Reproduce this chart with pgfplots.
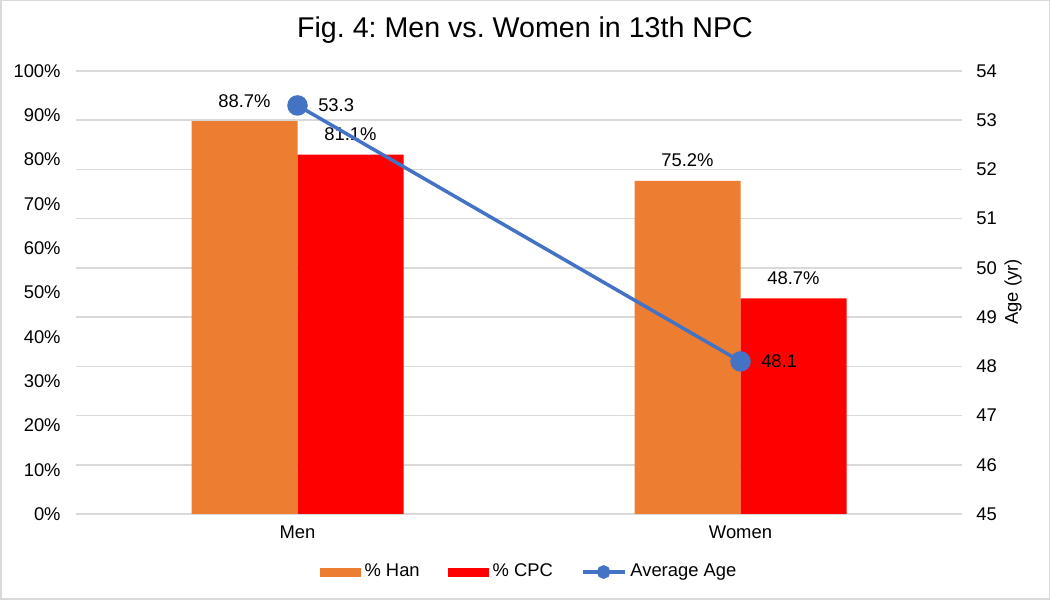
\documentclass[border=0pt]{standalone}
\usepackage{pgfplots}
\pgfplotsset{compat=1.18}
\usepackage{fontspec}
\setmainfont{Liberation Sans}
\frenchspacing

\definecolor{hanorange}{HTML}{ED7D31}
\definecolor{cpcred}{HTML}{FF0000}
\definecolor{ageblue}{HTML}{4472C4}
\definecolor{gridgray}{HTML}{D9D9D9}

\newcommand{\smallfont}{\fontsize{9.2}{10}\selectfont}

\pgfplotsset{
  /pgf/number format/assume math mode=true,
  chartbox/.style={
    at={(38pt,43pt)}, anchor=south west, scale only axis,
    width=443pt, height=221.5pt,
    xmin=-0.5, xmax=1.5,
    axis line style={draw=none},
    major tick length=0pt,
    tick label style={font=\smallfont, inner sep=0pt},
  },
}

\begin{document}
\begin{tikzpicture}[x=0.5pt,y=0.5pt]
\path[use as bounding box] (0,0) rectangle (1050,600);
\draw[gridgray, line width=0.75pt] (0.75,0.75) rectangle (1049.25,599.25);

% bars, left axis
\begin{axis}[
  chartbox,
  ybar=0pt, bar width=53pt,
  ymin=0, ymax=100,
  xtick={0,1}, xticklabels={Men,Women},
  ytick={0,10,...,100},
  yticklabel={\pgfmathprintnumber{\tick}\%},
  extra y ticks={0,11.1111,22.2222,33.3333,44.4444,55.5556,66.6667,77.7778,88.8889,100},
  extra y tick labels={},
  extra y tick style={grid=major},
  major grid style={gridgray, line width=0.75pt},
  yticklabel style={anchor=east, xshift=-7.5pt},
  xticklabel style={anchor=north, yshift=-5.5pt},
  nodes near coords={\pgfmathprintnumber[fixed,fixed zerofill,precision=1]{\pgfplotspointmeta}\%},
  every node near coord/.append style={font=\smallfont, anchor=base, inner sep=0pt, yshift=7pt, text=black},
]
\addplot[fill=hanorange, draw=none] coordinates {(0,88.7) (1,75.2)};
\addplot[fill=cpcred, draw=none] coordinates {(0,81.1) (1,48.7)};
\end{axis}

% average age, right axis
\begin{axis}[
  chartbox,
  ymin=45, ymax=54,
  axis y line*=right, axis x line=none,
  ytick={45,46,...,54},
  yticklabel style={anchor=west, xshift=7pt},
  legend columns=-1,
  legend style={at={(0.5125,-0.131)}, anchor=center, draw=none, fill=none,
    font=\smallfont, /tikz/every even column/.append style={column sep=12pt}},
]
\addlegendimage{legend image code/.code={\fill[hanorange] (0pt,-2pt) rectangle (20pt,2pt);}}
\addlegendimage{legend image code/.code={\fill[cpcred] (0pt,-2pt) rectangle (20pt,2pt);}}
\addplot[ageblue, line width=1.75pt, mark=*, mark size=4.25pt,
  mark options={fill=ageblue, draw=ageblue},
  legend image code/.code={
    \draw[ageblue, line width=1.75pt] (0pt,0pt) -- (21pt,0pt);
    \fill[ageblue] (10.5pt,0pt) circle (2.5pt);},
  nodes near coords={\pgfmathprintnumber[fixed,fixed zerofill,precision=1]{\pgfplotspointmeta}},
  every node near coord/.append style={font=\smallfont, anchor=west, inner sep=0pt, xshift=9.5pt, text=black},
] coordinates {(0,53.3) (1,48.1)};
\legend{\% Han, \% CPC, Average Age}
\end{axis}

\node[anchor=base, font=\fontsize{14.3}{16}\selectfont] at (525,562) {Fig. 4: Men vs. Women in 13th NPC};
\node[rotate=90, font=\smallfont] at (1013,308) {Age (yr)};
\end{tikzpicture}
\end{document}
